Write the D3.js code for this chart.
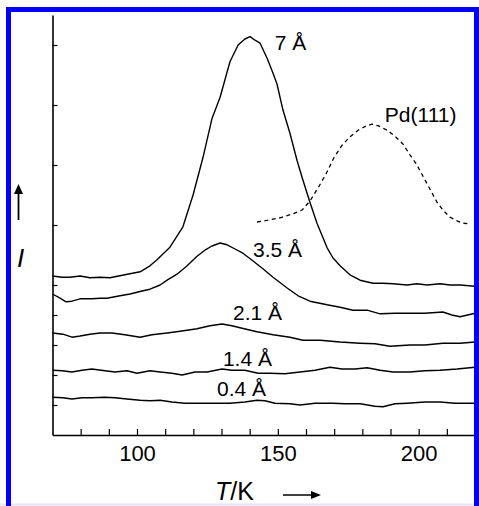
<!DOCTYPE html>
<html>
<head>
<meta charset="utf-8">
<script src="https://cdn.jsdelivr.net/npm/d3@7"></script>
<style>
  html, body { margin: 0; padding: 0; background: #fff; }
  svg { display: block; font-family: "Liberation Sans", Arial, sans-serif; }
</style>
</head>
<body>
<div id="container"></div>
<script>
// TPD traces: temperature T (K) vs intensity I (arb. units, offset traces)

const xTicks = [80, 90, 100, 110, 120, 130, 140, 150, 160, 170, 180, 190, 200, 210, 220];
const xLabels = [100, 150, 200];
const yTicks = [0.5, 1, 1.5, 2, 2.5, 3.5, 4.5, 5.5, 6.5];

// 7 Å
const t7 = [70, 73.4, 76.2, 79.8, 83.3, 86.9, 90.4, 95.7, 101.1, 104.6, 107.1, 111.7, 116.3, 119.9, 123.4, 126.6, 129.5, 133.0, 135.9, 138.3, 140.1, 141.9, 143.7, 146.2, 148.3, 149.7, 151.8, 154.3, 156.8, 158.9, 161.4, 163.9, 167.5, 169.6, 172.1, 175.6, 179.2, 183.8, 187.3, 190.9, 195.9, 199.4, 203.0, 207.6, 211.1, 214.7, 220];
const i7 = [2.65, 2.63, 2.63, 2.65, 2.62, 2.63, 2.62, 2.67, 2.72, 2.82, 2.92, 3.13, 3.47, 4.00, 4.62, 5.27, 5.63, 6.22, 6.50, 6.60, 6.64, 6.58, 6.53, 6.28, 6.03, 5.85, 5.42, 5.03, 4.58, 4.25, 3.88, 3.53, 3.12, 2.95, 2.82, 2.67, 2.58, 2.53, 2.53, 2.52, 2.50, 2.52, 2.50, 2.52, 2.50, 2.50, 2.48];

// 3.5 Å
const t35 = [70, 72.7, 74.8, 76.9, 79.8, 84.0, 86.9, 89.3, 94.0, 97.5, 101.8, 104.6, 108.2, 110.7, 114.2, 117.8, 121.3, 124.1, 126.6, 129.5, 132.0, 134.8, 137.6, 141.2, 144.7, 148.3, 153.3, 157.2, 161.4, 167.5, 172.1, 176.7, 181.7, 186.3, 191.6, 196.9, 202.2, 208.6, 211.8, 214.7, 220];
const i35 = [2.35, 2.28, 2.22, 2.23, 2.27, 2.27, 2.28, 2.28, 2.32, 2.35, 2.40, 2.43, 2.50, 2.58, 2.68, 2.82, 2.98, 3.08, 3.15, 3.20, 3.17, 3.10, 3.03, 2.90, 2.77, 2.63, 2.45, 2.32, 2.23, 2.17, 2.13, 2.08, 2.08, 2.02, 2.03, 2.03, 2.03, 2.05, 2.00, 1.97, 2.03];

// 2.1 Å
const t21 = [70, 73.7, 76.9, 79.8, 83.3, 86.9, 91.1, 95.7, 101.1, 105.3, 110.7, 115.3, 121.3, 125.9, 130.2, 133.7, 137.3, 142.6, 148.3, 154.3, 158.9, 165.0, 172.1, 179.2, 184.5, 189.8, 196.9, 202.2, 208.6, 214.7, 220];
const i21 = [1.70, 1.68, 1.63, 1.65, 1.68, 1.70, 1.70, 1.67, 1.63, 1.67, 1.70, 1.73, 1.77, 1.82, 1.85, 1.82, 1.78, 1.72, 1.67, 1.63, 1.58, 1.58, 1.55, 1.53, 1.52, 1.48, 1.50, 1.50, 1.53, 1.53, 1.55];

// 1.4 Å
const t14 = [70, 73.4, 76.9, 80.5, 84.0, 88.6, 92.2, 96.4, 100.0, 104.6, 108.2, 112.4, 116.0, 120.6, 124.9, 130.2, 133.7, 138.3, 143.0, 147.2, 152.5, 157.9, 163.2, 168.5, 172.8, 177.4, 181.7, 186.3, 190.9, 196.9, 202.2, 207.6, 213.6, 220];
const i14 = [1.08, 1.07, 1.05, 1.08, 1.10, 1.07, 1.05, 1.07, 1.03, 1.07, 1.05, 1.03, 1.00, 1.05, 1.05, 1.10, 1.08, 1.08, 1.03, 1.03, 1.02, 1.05, 1.08, 1.13, 1.10, 1.10, 1.12, 1.08, 1.05, 1.05, 1.07, 1.08, 1.10, 1.13];

// 0.4 Å
const t04 = [70, 73.7, 76.9, 80.5, 84.0, 88.6, 92.2, 96.4, 101.1, 104.6, 108.2, 112.4, 117.0, 122.4, 127.7, 133.0, 138.3, 142.6, 145.4, 149.0, 154.3, 157.9, 163.2, 169.6, 173.8, 179.2, 184.5, 187.3, 191.6, 195.9, 202.2, 207.6, 212.9, 220];
const i04 = [0.63, 0.62, 0.60, 0.62, 0.62, 0.63, 0.62, 0.60, 0.58, 0.57, 0.58, 0.55, 0.53, 0.53, 0.53, 0.53, 0.55, 0.58, 0.57, 0.53, 0.52, 0.50, 0.53, 0.53, 0.52, 0.52, 0.48, 0.47, 0.52, 0.53, 0.55, 0.55, 0.53, 0.53];

// Pd(111) reference (dashed)
const tPd = [142.6, 146.5, 150.8, 155.0, 158.6, 161.4, 164.3, 167.1, 169.9, 172.8, 175.6, 178.5, 181.3, 183.4, 185.9, 188.8, 191.6, 194.4, 196.9, 199.4, 201.9, 204.0, 206.5, 208.6, 211.1, 213.6, 215.7, 218.2];
const iPd = [3.55, 3.58, 3.62, 3.68, 3.75, 3.90, 4.12, 4.35, 4.62, 4.83, 4.97, 5.08, 5.15, 5.18, 5.15, 5.08, 4.98, 4.85, 4.67, 4.50, 4.28, 4.10, 3.88, 3.75, 3.63, 3.57, 3.53, 3.52];

const seriesNames = ['7 Å', '3.5 Å', '2.1 Å', '1.4 Å', '0.4 Å', 'Pd(111)'];
const seriesT = [t7, t35, t21, t14, t04, tPd];
const seriesI = [i7, i35, i21, i14, i04, iPd];
// label anchor (T, I) for each trace
const labelT = [148.9, 141.2, 134.1, 130.5, 128.4, 188.0];
const labelI = [6.42, 2.97, 1.92, 1.15, 0.65, 5.22];

const width = 479;
const height = 506;

const svg = d3.select('#container').append('svg')
    .attr('width', width)
    .attr('height', height);

svg.append('rect').attr('width', width).attr('height', height).attr('fill', '#fff');

const x = d3.scaleLinear().domain([70, 220]).range([52.5, 475]);
const y = d3.scaleLinear().domain([0, 7]).range([435, 15]);

// X axis
const xAxis = svg.append('g')
    .attr('transform', 'translate(0,435)')
    .call(d3.axisBottom(x)
        .tickValues(xTicks)
        .tickSize(-6)
        .tickSizeOuter(0)
        .tickPadding(10)
        .tickFormat(d => xLabels.includes(d) ? d : ''));
xAxis.select('.domain').attr('stroke', '#000').attr('stroke-width', 1.6);
xAxis.selectAll('.tick line').attr('stroke', '#000').attr('stroke-width', 1.2);
xAxis.selectAll('.tick text')
    .attr('fill', '#000')
    .style('font-size', '22px')
    .style('font-family', '"Liberation Sans", Arial, sans-serif');

// Y axis
const yAxis = svg.append('g')
    .attr('transform', 'translate(52.5,0)')
    .call(d3.axisLeft(y)
        .tickValues(yTicks)
        .tickSize(-5)
        .tickSizeOuter(0)
        .tickFormat(''));
yAxis.select('.domain').attr('stroke', '#000').attr('stroke-width', 1.6);
yAxis.selectAll('.tick line').attr('stroke', '#000').attr('stroke-width', 1.2);

// Traces
const line = d3.line()
    .x(d => x(d[0]))
    .y(d => y(d[1]));

seriesNames.forEach((name, k) => {
    const pts = seriesT[k].map((t, i) => [t, seriesI[k][i]]);
    svg.append('path')
        .datum(pts)
        .attr('d', line)
        .attr('fill', 'none')
        .attr('stroke', '#000')
        .attr('stroke-width', name === 'Pd(111)' ? 1.3 : 1.4)
        .attr('stroke-dasharray', name === 'Pd(111)' ? '4,3.5' : null)
        .attr('stroke-linejoin', 'round');

    svg.append('text')
        .attr('x', x(labelT[k]))
        .attr('y', y(labelI[k]))
        .attr('font-size', 21)
        .attr('fill', '#000')
        .text(name);
});

// Y axis label with arrow
svg.append('text')
    .attr('x', 17)
    .attr('y', 267)
    .attr('font-size', 26)
    .attr('font-style', 'italic')
    .text('I');
svg.append('line')
    .attr('x1', 18.5).attr('y1', 220)
    .attr('x2', 18.5).attr('y2', 192)
    .attr('stroke', '#000').attr('stroke-width', 1.8);
svg.append('path')
    .attr('d', 'M18.5,184 L14,194 L23,194 Z')
    .attr('fill', '#000');

// X axis label with arrow
const xLab = svg.append('text')
    .attr('x', 215)
    .attr('y', 500)
    .attr('font-size', 25);
xLab.append('tspan').attr('font-style', 'italic').text('T');
xLab.append('tspan').text('/K');
svg.append('line')
    .attr('x1', 283).attr('y1', 495)
    .attr('x2', 312).attr('y2', 495)
    .attr('stroke', '#000').attr('stroke-width', 1.5);
svg.append('path')
    .attr('d', 'M321,495 L311,491 L311,499 Z')
    .attr('fill', '#000');

// Frame (blue border, open at the bottom)
svg.append('line')
    .attr('x1', 0).attr('y1', 504.5).attr('x2', width).attr('y2', 504.5)
    .attr('stroke', '#e4e4fa').attr('stroke-width', 2);
svg.append('rect').attr('x', 6).attr('y', 7).attr('width', 5).attr('height', height - 7).attr('fill', '#0000fa');
svg.append('rect').attr('x', 6).attr('y', 7).attr('width', width - 6).attr('height', 5).attr('fill', '#0000fa');
svg.append('rect').attr('x', 474).attr('y', 7).attr('width', 5).attr('height', height - 7).attr('fill', '#0000fa');
</script>
</body>
</html>
